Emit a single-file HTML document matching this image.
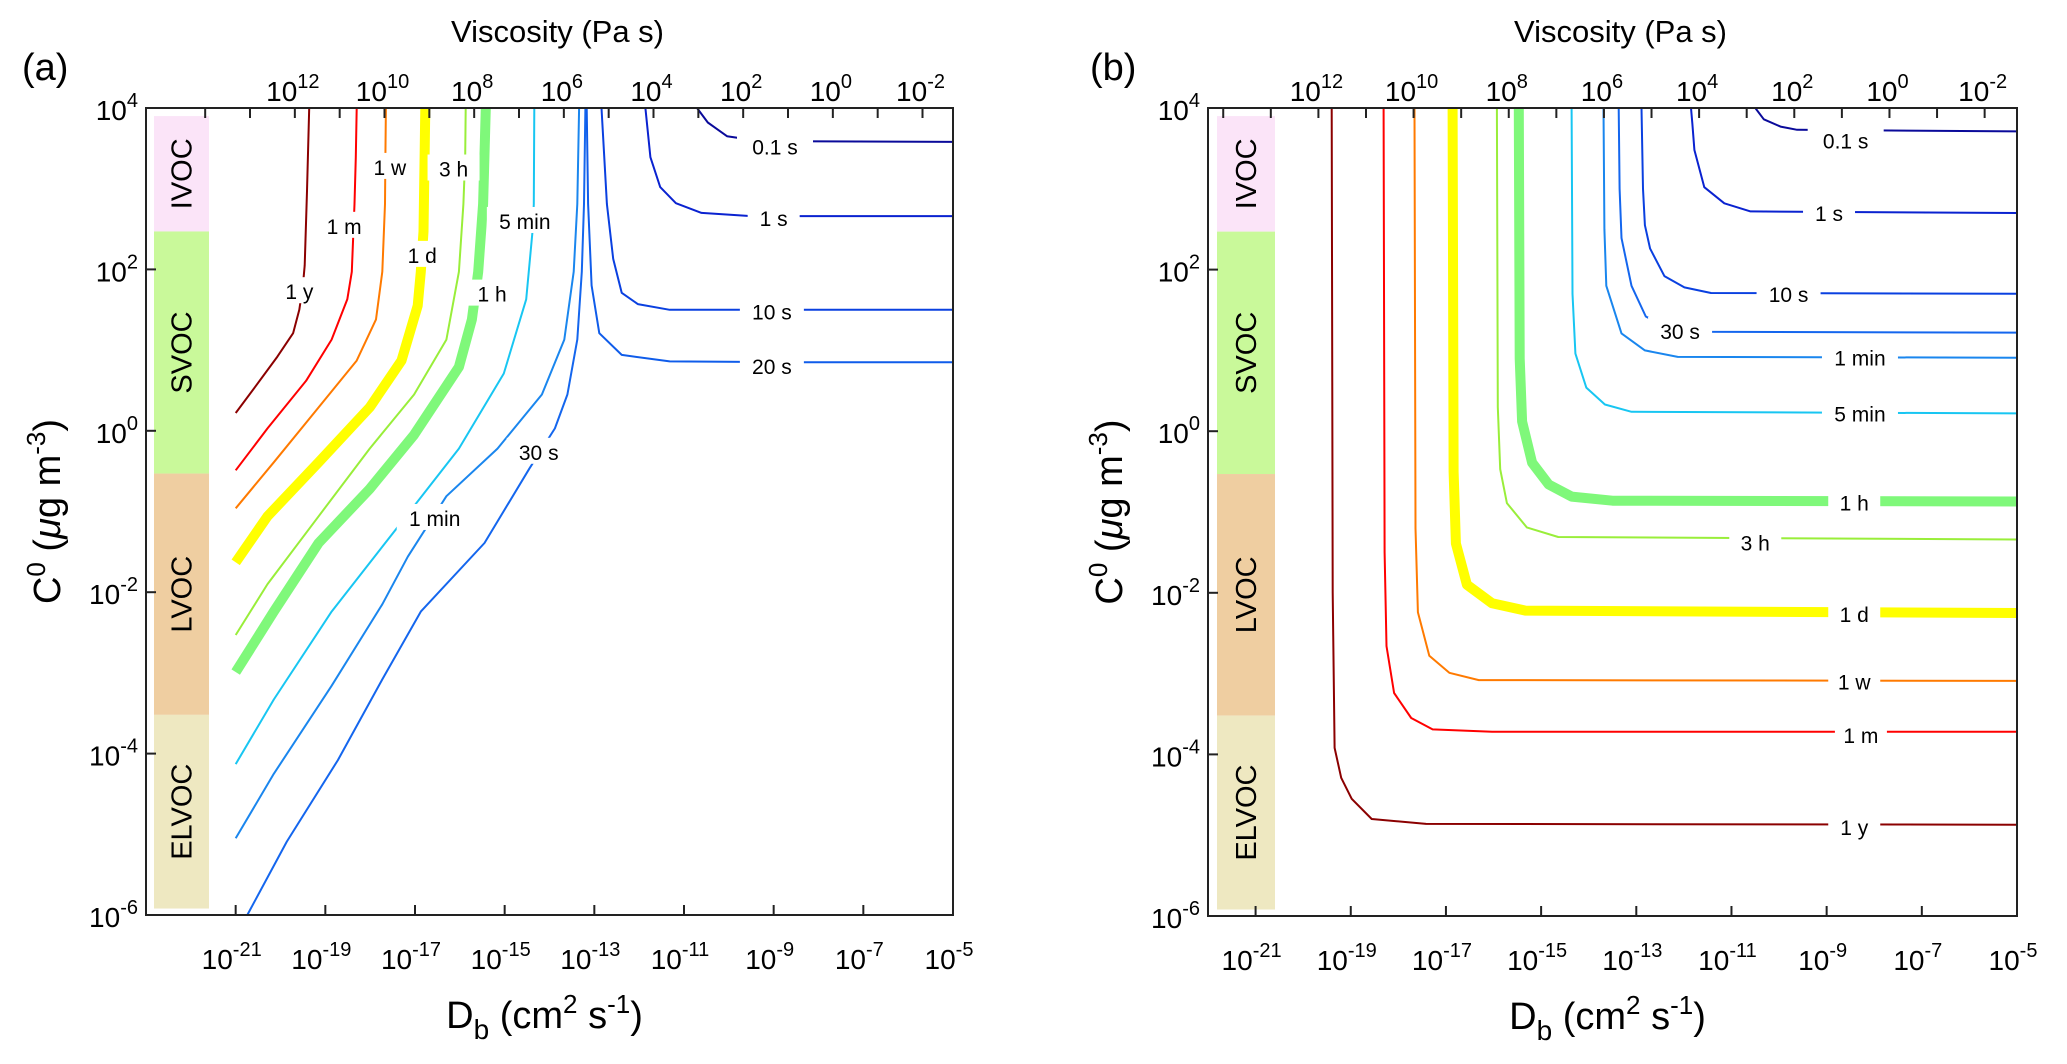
<!DOCTYPE html>
<html><head><meta charset="utf-8">
<style>
html,body{margin:0;padding:0;background:#fff;}
svg{display:block;font-family:"Liberation Sans",Arial,sans-serif;}
</style></head>
<body>
<svg id="chart" width="2067" height="1064" viewBox="0 0 2067 1064" xmlns="http://www.w3.org/2000/svg"></svg>
<script>
// ---------- data: panel (a) contours [log10 Db, log10 C0] ----------
const a_1y=[[-21,0.22],[-20.57,0.54],[-20.07,0.92],[-19.72,1.21],[-19.58,1.5],[-19.5,1.8],[-19.46,2.05],[-19.41,2.97],[-19.36,4]];
const a_1m=[[-21,-0.49],[-20.29,0.03],[-19.43,0.62],[-18.86,1.13],[-18.51,1.63],[-18.41,1.97],[-18.35,2.81],[-18.32,3.39],[-18.3,4]];
const a_1w=[[-21,-0.96],[-20.15,-0.39],[-19.15,0.29],[-18.3,0.87],[-17.87,1.38],[-17.73,1.97],[-17.67,2.81],[-17.66,3.4],[-17.65,4]];
const a_1d=[[-21,-1.63],[-20.29,-1.06],[-19.15,-0.39],[-18.01,0.29],[-17.3,0.87],[-16.94,1.55],[-16.87,1.97],[-16.81,2.47],[-16.79,3.23],[-16.77,4]];
const a_3h=[[-21,-2.53],[-20.29,-1.9],[-19.15,-1.06],[-18.01,-0.22],[-17.02,0.45],[-16.3,1.13],[-16.02,1.97],[-15.92,2.81],[-15.88,3.4],[-15.87,4]];
const a_1h=[[-21,-2.99],[-20.15,-2.24],[-19.15,-1.39],[-18.01,-0.72],[-17.02,-0.05],[-16.02,0.79],[-15.73,1.38],[-15.59,1.97],[-15.48,2.81],[-15.42,4]];
const a_5min=[[-21,-4.13],[-20.15,-3.33],[-18.86,-2.24],[-17.44,-1.23],[-16.02,-0.22],[-15.02,0.71],[-14.52,1.63],[-14.38,2.47],[-14.35,2.81],[-14.34,4]];
const a_1min=[[-21,-5.05],[-20.15,-4.25],[-18.86,-3.16],[-17.73,-2.15],[-17.16,-1.56],[-16.3,-0.81],[-15.16,-0.22],[-14.17,0.45],[-13.67,1.13],[-13.46,1.97],[-13.38,2.81],[-13.34,4]];
const a_30s=[[-20.74,-6],[-19.86,-5.09],[-18.72,-4.08],[-17.73,-3.08],[-16.87,-2.24],[-15.45,-1.39],[-14.45,-0.47],[-13.88,0.03],[-13.6,0.45],[-13.38,1.13],[-13.28,1.97],[-13.23,2.81],[-13.2,4]];
const a_20s=[[-13.17,4],[-13.14,2.81],[-13.06,1.8],[-12.89,1.21],[-12.39,0.94],[-11.32,0.86],[-8.33,0.85],[-5,0.85]];
const a_10s=[[-12.84,4],[-12.72,2.81],[-12.58,2.13],[-12.39,1.71],[-12.03,1.57],[-11.32,1.5],[-5,1.5]];
const a_1s=[[-11.86,4],[-11.75,3.39],[-11.53,3.02],[-11.18,2.82],[-10.61,2.7],[-9.5,2.66],[-5,2.66]];
const a_01s=[[-10.71,4],[-10.47,3.82],[-10.04,3.65],[-9.3,3.59],[-5,3.58]];
// ---------- data: panel (b) contours ----------
const b_1y=[[-19.4,4],[-19.38,-2],[-19.34,-3.92],[-19.2,-4.29],[-18.98,-4.55],[-18.56,-4.8],[-17.42,-4.86],[-5,-4.87]];
const b_1m=[[-18.31,4],[-18.29,-1.5],[-18.25,-2.66],[-18.09,-3.24],[-17.73,-3.55],[-17.28,-3.69],[-16.03,-3.72],[-5,-3.72]];
const b_1w=[[-17.66,4],[-17.64,-1.2],[-17.59,-2.24],[-17.35,-2.78],[-16.93,-2.99],[-16.31,-3.08],[-5,-3.09]];
const b_1d=[[-16.86,4],[-16.84,-0.5],[-16.79,-1.39],[-16.56,-1.9],[-16.03,-2.13],[-15.33,-2.22],[-5,-2.25]];
const b_3h=[[-15.93,4],[-15.91,0.3],[-15.86,-0.47],[-15.72,-0.89],[-15.3,-1.19],[-14.64,-1.31],[-5,-1.34]];
const b_1h=[[-15.47,4],[-15.45,0.9],[-15.4,0.12],[-15.19,-0.39],[-14.84,-0.66],[-14.36,-0.81],[-13.5,-0.86],[-5,-0.87]];
const b_5min=[[-14.36,4],[-14.34,1.7],[-14.28,0.96],[-14.05,0.54],[-13.66,0.33],[-13.1,0.24],[-5,0.22]];
const b_1min=[[-13.69,4],[-13.67,2.5],[-13.63,1.8],[-13.31,1.21],[-12.82,1.0],[-12.13,0.92],[-5,0.91]];
const b_30s=[[-13.37,4],[-13.35,3.0],[-13.31,2.39],[-13.1,1.8],[-12.8,1.42],[-12.34,1.28],[-11.8,1.23],[-5,1.22]];
const b_10s=[[-12.89,4],[-12.86,3.0],[-12.82,2.55],[-12.71,2.26],[-12.41,1.92],[-11.99,1.78],[-11.43,1.71],[-5,1.7]];
const b_1s=[[-11.85,4],[-11.82,3.8],[-11.78,3.48],[-11.57,3.02],[-11.15,2.82],[-10.6,2.72],[-5,2.7]];
const b_01s=[[-10.5,4],[-10.32,3.86],[-9.97,3.77],[-9.62,3.73],[-5,3.71]];
// label positions [log Db, log C0]
const aLabels=[["1 y",-19.58,1.73],["1 m",-18.58,2.54],["1 w",-17.56,3.27],["1 d",-16.84,2.18],["3 h",-16.14,3.25],["1 h",-15.28,1.7],["5 min",-14.55,2.6],["1 min",-16.56,-1.08],["30 s",-14.24,-0.26],["20 s",-9.04,0.8],["10 s",-9.04,1.48],["1 s",-9.0,2.64],["0.1 s",-8.97,3.52]];
const bLabels=[["1 y",-8.42,-4.9],["1 m",-8.28,-3.76],["1 w",-8.42,-3.1],["1 d",-8.42,-2.26],["3 h",-10.5,-1.38],["1 h",-8.42,-0.88],["5 min",-8.3,0.22],["1 min",-8.3,0.91],["30 s",-12.08,1.24],["10 s",-9.8,1.7],["1 s",-8.95,2.7],["0.1 s",-8.6,3.6]];
const xTicks=[-21,-19,-17,-15,-13,-11,-9,-7,-5];
const yTicks=[4,2,0,-2,-4,-6];
const viscTicks=[14,13,12,11,10,9,8,7,6,5,4,3,2,1,0,-1,-2];
const viscLabels=[12,10,8,6,4,2,0,-2];
const vocNames=["IVOC","SVOC","LVOC","ELVOC"];
const vocBounds=[3.9,2.47,-0.53,-3.52,-5.92];
const vocColors=["#fbe4f8","#c9f99a","#efcea1","#eee8c1"];

const svg=document.getElementById('chart');
const NS='http://www.w3.org/2000/svg';
function mk(tag,attrs,parent){const e=document.createElementNS(NS,tag);for(const k in attrs)e.setAttribute(k,attrs[k]);(parent||svg).appendChild(e);return e;}

function panel(cfg){
  const g=mk('g',{});
  
  
  const X=v=>cfg.left+(v-cfg.xmin)*(cfg.right-cfg.left)/(cfg.xmax-cfg.xmin);
  const Y=v=>cfg.top+(4-v)*(cfg.bottom-cfg.top)/10;
  for(let i=0;i<4;i++){
    const r=mk('rect',{x:cfg.boxL,y:Y(vocBounds[i]),width:cfg.boxR-cfg.boxL,height:Y(vocBounds[i+1])-Y(vocBounds[i]),fill:vocColors[i]},g);
    
    
    const cx=(cfg.boxL+cfg.boxR)/2+10, cy=(Y(vocBounds[i])+Y(vocBounds[i+1]))/2;
    const t=mk('text',{x:cx,y:cy,'font-size':29,'text-anchor':'middle',transform:`rotate(-90 ${cx} ${cy})`},g);
    t.textContent=vocNames[i];
    
    
  }
  for(const s of cfg.series){
    const p=mk('polyline',{points:s.d.map(q=>X(q[0]).toFixed(1)+','+Y(q[1]).toFixed(1)).join(' '),fill:'none',stroke:s.c,'stroke-width':s.w,'stroke-linejoin':'round'},g);
    
    
  }
  for(const l of cfg.labels){
    const x=X(l[1]),y=Y(l[2]);
    const w=l[0].length*12+16;
    const r=mk('rect',{x:x-w/2,y:y-14,width:w,height:26,fill:'#fff'},g);
    
    
    const t=mk('text',{x:x,y:y+8,'font-size':21,'text-anchor':'middle'},g);
    t.textContent=l[0];
    
    
  }
  const b=mk('rect',{x:cfg.left,y:cfg.top,width:cfg.right-cfg.left,height:cfg.bottom-cfg.top,fill:'none',stroke:'#222','stroke-width':2},g);
  
  
  for(const v of xTicks){
    const x=X(v);
    mk('line',{x1:x,x2:x,y1:cfg.bottom,y2:cfg.bottom-10,stroke:'#222','stroke-width':2},g);
    const t=mk('text',{x:x-4,y:cfg.bottom+54,'font-size':28,'text-anchor':'middle'},g);
    t.innerHTML='10<tspan dy="-13" font-size="20">'+v+'</tspan>';
    
    
  }
  for(const v of yTicks){
    const y=Y(v);
    mk('line',{x1:cfg.left,x2:cfg.left+10,y1:y,y2:y,stroke:'#222','stroke-width':2},g);
    const t=mk('text',{x:cfg.left-8,y:y+12,'font-size':28,'text-anchor':'end'},g);
    t.innerHTML='10<tspan dy="-13" font-size="20">'+v+'</tspan>';
    
    
  }
  for(const e of viscTicks){
    const d=-e-7.68; if(d<cfg.xmin||d>cfg.xmax)continue;
    const x=X(d);
    mk('line',{x1:x,x2:x,y1:cfg.top,y2:cfg.top+10,stroke:'#222','stroke-width':2},g);
  }
  for(const e of viscLabels){
    const x=X(-e-7.68);
    const t=mk('text',{x:x-2,y:cfg.top-7,'font-size':28,'text-anchor':'middle'},g);
    t.innerHTML='10<tspan dy="-13" font-size="20">'+e+'</tspan>';
    
    
  }
  const cxm=(cfg.left+cfg.right)/2;
  let t=mk('text',{x:cxm+8,y:cfg.top-66,'font-size':31,'text-anchor':'middle'},g);
  t.textContent='Viscosity (Pa s)';
  
  
  t=mk('text',{x:cxm-5,y:cfg.bottom+113,'font-size':38,'text-anchor':'middle'},g);
  t.innerHTML='D<tspan dy="11" font-size="28">b</tspan><tspan dy="-11"> (cm</tspan><tspan dy="-15" font-size="26">2</tspan><tspan dy="15"> s</tspan><tspan dy="-15" font-size="26">-1</tspan><tspan dy="15">)</tspan>';
  
  
  const yx=cfg.left-86, yy=(cfg.top+cfg.bottom)/2;
  t=mk('text',{x:yx,y:yy,'font-size':38,'text-anchor':'middle',transform:`rotate(-90 ${yx} ${yy})`},g);
  t.innerHTML='C<tspan dy="-15" font-size="26">0</tspan><tspan dy="15"> (</tspan><tspan font-style="italic">μ</tspan>g m<tspan dy="-15" font-size="26">-3</tspan><tspan dy="15">)</tspan>';
  
  
  t=mk('text',{x:cfg.tagX,y:80,'font-size':38},g);
  t.textContent=cfg.tag;
  
  
}
const C={y:'#8b0000',m:'#ff0000',w:'#ff7a00',d:'#ffff00',h3:'#99ee3a',h1:'#7ff87a',min5:'#18c6f2',min1:'#1a86ee',s30:'#1466ee',s20:'#0f5cea',s10:'#0a40e0',s1:'#0a22d0',s01:'#0a0a9a'};
panel({name:'panel-a',tag:'(a)',tagX:22,left:146,right:953,top:108,bottom:915,xmin:-23,xmax:-5,boxL:154,boxR:209,
 labels:aLabels,
 series:[{n:'1 y',d:a_1y,c:C.y,w:2},{n:'1 m',d:a_1m,c:C.m,w:2},{n:'1 w',d:a_1w,c:C.w,w:2},{n:'1 d',d:a_1d,c:C.d,w:10},{n:'3 h',d:a_3h,c:C.h3,w:2},{n:'1 h',d:a_1h,c:C.h1,w:10},{n:'5 min',d:a_5min,c:C.min5,w:2},{n:'1 min',d:a_1min,c:C.min1,w:2},{n:'30 s',d:a_30s,c:C.s30,w:2},{n:'20 s',d:a_20s,c:C.s20,w:2},{n:'10 s',d:a_10s,c:C.s10,w:2},{n:'1 s',d:a_1s,c:C.s1,w:2},{n:'0.1 s',d:a_01s,c:C.s01,w:2}]});
panel({name:'panel-b',tag:'(b)',tagX:1090,left:1208,right:2017,top:108,bottom:916,xmin:-22,xmax:-5,boxL:1217,boxR:1275,
 labels:bLabels,
 series:[{n:'1 y',d:b_1y,c:C.y,w:2},{n:'1 m',d:b_1m,c:C.m,w:2},{n:'1 w',d:b_1w,c:C.w,w:2},{n:'1 d',d:b_1d,c:C.d,w:10},{n:'3 h',d:b_3h,c:C.h3,w:2},{n:'1 h',d:b_1h,c:C.h1,w:10},{n:'5 min',d:b_5min,c:C.min5,w:2},{n:'1 min',d:b_1min,c:C.min1,w:2},{n:'30 s',d:b_30s,c:C.s30,w:2},{n:'10 s',d:b_10s,c:C.s10,w:2},{n:'1 s',d:b_1s,c:C.s1,w:2},{n:'0.1 s',d:b_01s,c:C.s01,w:2}]});
</script>
</body></html>
